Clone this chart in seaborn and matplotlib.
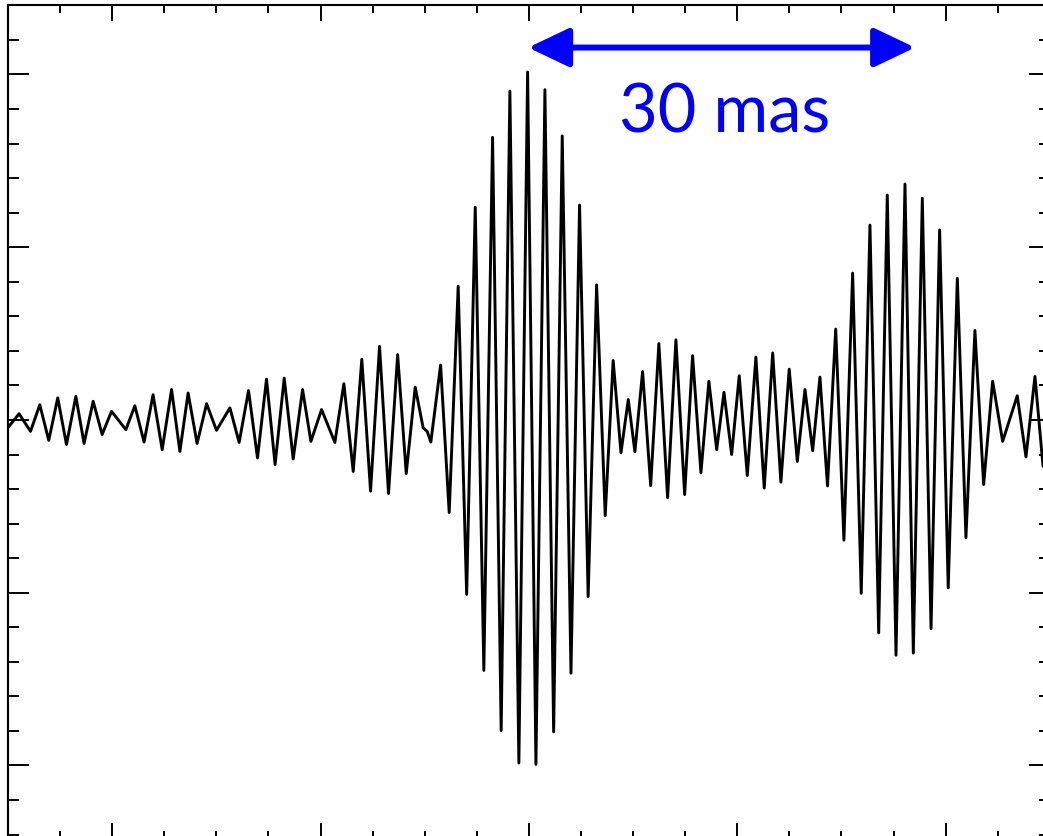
import numpy as np
import pandas as pd
import matplotlib.pyplot as plt
import seaborn as sns
from matplotlib.ticker import MultipleLocator, NullFormatter

# fringe extrema (offset in mas, normalised amplitude)
offset_mas = [-40.0, -39.15, -38.27, -37.56, -36.87, -36.18, -35.51, -34.79, -34.16, -33.46,
              -32.77, -32.05, -30.95, -30.26, -29.55, -28.86, -28.16, -27.44, -26.80, -26.17,
              -25.48, -24.75, -23.99, -22.96, -22.25, -21.53, -20.84, -20.15, -19.49, -18.79,
              -18.10, -17.38, -16.74, -15.92, -14.90, -14.21, -13.49, -12.83, -12.16, -11.47,
              -10.78, -10.08, -9.42, -8.73, -8.12, -7.81, -7.53, -6.78, -6.12, -5.43,
              -4.78, -4.12, -3.46, -2.79, -2.13, -1.46, -0.77, -0.10, 0.54, 1.23,
              1.90, 2.56, 3.23, 3.89, 4.55, 5.20, 5.86, 6.47, 7.07, 7.63,
              8.14, 8.73, 9.35, 9.98, 10.65, 11.29, 11.96, 12.57, 13.21, 13.82,
              14.42, 14.98, 15.57, 16.15, 16.77, 17.43, 18.07, 18.72, 19.35, 19.99,
              20.61, 21.20, 21.79, 22.35, 22.93, 23.56, 24.19, 24.86, 25.52, 26.19,
              26.86, 27.52, 28.19, 28.88, 29.52, 30.21, 30.88, 31.54, 32.20, 32.90,
              33.56, 34.25, 34.92, 35.61, 36.38, 37.50, 38.17, 38.86, 39.48]
amplitude = [-0.022, 0.018, -0.033, 0.044, -0.059, 0.064, -0.071, 0.068, -0.068, 0.054,
             -0.042, 0.025, -0.028, 0.041, -0.064, 0.073, -0.086, 0.088, -0.091, 0.078,
             -0.068, 0.047, -0.030, 0.035, -0.065, 0.085, -0.110, 0.118, -0.129, 0.121,
             -0.113, 0.088, -0.062, 0.030, -0.065, 0.105, -0.149, 0.176, -0.206, 0.213,
             -0.213, 0.189, -0.155, 0.095, -0.023, -0.033, -0.064, 0.159, -0.268, 0.387,
             -0.505, 0.616, -0.725, 0.818, -0.899, 0.952, -0.993, 1.007, -0.997, 0.956,
             -0.903, 0.822, -0.733, 0.622, -0.511, 0.391, -0.277, 0.172, -0.095, 0.059,
             -0.092, 0.140, -0.190, 0.221, -0.225, 0.232, -0.216, 0.186, -0.153, 0.112,
             -0.086, 0.080, -0.100, 0.128, -0.161, 0.182, -0.197, 0.194, -0.180, 0.147,
             -0.120, 0.088, -0.089, 0.124, -0.191, 0.263, -0.348, 0.425, -0.502, 0.564,
             -0.616, 0.651, -0.681, 0.683, -0.675, 0.642, -0.604, 0.550, -0.486, 0.410,
             -0.341, 0.259, -0.187, 0.112, -0.062, 0.070, -0.107, 0.126, -0.134]

scale_start = -0.05
scale_end = 29.65
scale_label = "30 mas"

df = pd.DataFrame({"offset": offset_mas, "amp": amplitude})

sns.set_style("ticks")
fig = plt.figure(figsize=(10.43, 8.36), dpi=100)
ax = fig.add_axes([0.00767, -0.00359, 0.99885, 0.99713])

sns.lineplot(data=df, x="offset", y="amp", ax=ax, color="black", lw=2.1,
             estimator=None, sort=False)
ax.lines[0].set_solid_joinstyle("round")

ax.set_xlim(-40, 40)
ax.set_ylim(-1.213, 1.2)
ax.set_xlabel("")
ax.set_ylabel("")

ax.xaxis.set_major_locator(MultipleLocator(16))
ax.xaxis.set_minor_locator(MultipleLocator(4))
ax.yaxis.set_major_locator(MultipleLocator(0.5))
ax.yaxis.set_minor_locator(MultipleLocator(0.1))
ax.xaxis.set_major_formatter(NullFormatter())
ax.yaxis.set_major_formatter(NullFormatter())
ax.tick_params(which="both", direction="in", top=True, right=True,
               bottom=True, left=True, color="black", width=1.4)
ax.tick_params(axis="x", which="major", length=11.5)
ax.tick_params(axis="x", which="minor", length=5.8)
ax.tick_params(axis="y", which="major", length=15)
ax.tick_params(axis="y", which="minor", length=8)
for s in ax.spines.values():
    s.set_linewidth(1.5)
    s.set_color("black")
    s.set_visible(True)

# scale bar
ax.annotate("", xy=(scale_end, 1.078), xytext=(scale_start, 1.078),
            arrowprops=dict(arrowstyle="<|-|>,head_length=0.9,head_width=0.43",
                            color="#0000ff", lw=4.3, mutation_scale=28,
                            shrinkA=0, shrinkB=0))
ax.text(15.0, 0.831, scale_label, color="#0000ff", ha="center", va="baseline",
        fontsize=48, family=["Lato", "DejaVu Sans"])

fig.savefig("out.png", dpi=100)
